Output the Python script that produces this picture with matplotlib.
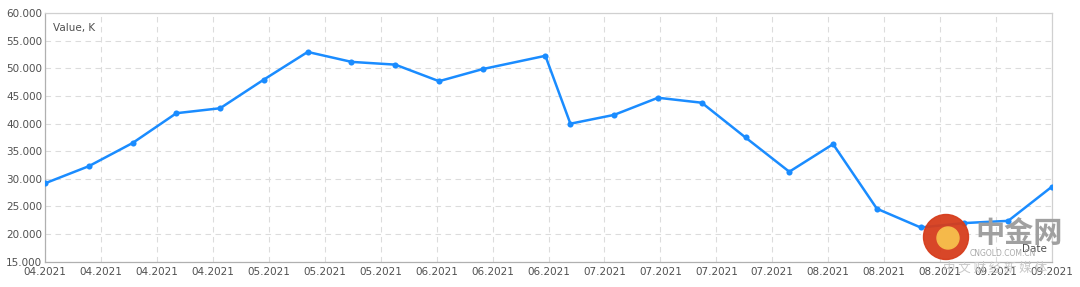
import matplotlib
matplotlib.use("Agg")
import matplotlib.pyplot as plt
import matplotlib.dates as mdates
import matplotlib.patches as mpatches
import numpy as np
import pandas as pd

# Weekly report dates (Jun 18 holiday pushed to Jun 21)
dates = pd.to_datetime([
    "2021-04-02", "2021-04-09", "2021-04-16", "2021-04-23", "2021-04-30",
    "2021-05-07", "2021-05-14", "2021-05-21", "2021-05-28",
    "2021-06-04", "2021-06-11", "2021-06-21", "2021-06-25",
    "2021-07-02", "2021-07-09", "2021-07-16", "2021-07-23", "2021-07-30",
    "2021-08-06", "2021-08-13", "2021-08-20", "2021-08-27",
    "2021-09-03", "2021-09-10",
])
values_k = [
    29.2, 32.3, 36.5, 41.9, 42.8,
    48.0, 53.0, 51.2, 50.7,
    47.7, 49.9, 52.3, 40.0,
    41.6, 44.7, 43.8, 37.5, 31.3,
    36.3, 24.6, 21.2, 22.0,
    22.4, 28.6,
]
y_ticks = [15, 20, 25, 30, 35, 40, 45, 50, 55, 60]
n_xticks = 19

LINE = "#1a8cff"
GRID = "#dcdcdc"
TXT = "#505050"

fig = plt.figure(figsize=(10.8, 2.87), dpi=100)
ax = fig.add_axes([45 / 1080, 1 - 261.7 / 287, 1007 / 1080, 248.4 / 287])

ax.plot(dates, values_k, color=LINE, lw=1.8, marker="o", ms=4.4,
        markeredgewidth=0, zorder=3)

ax.set_xlim(dates[0], dates[-1])
ax.set_ylim(y_ticks[0], y_ticks[-1])

# date ticks evenly spread over the range, labelled by the next whole day
xnum = np.linspace(mdates.date2num(dates[0]), mdates.date2num(dates[-1]), n_xticks)
ax.set_xticks(xnum)
ax.set_xticklabels([mdates.num2date(np.ceil(v)).strftime("%m.%Y") for v in xnum])
ax.set_yticks(y_ticks)
ax.set_yticklabels([f"{v}.000" for v in y_ticks])

ax.tick_params(axis="both", length=0, labelsize=7.5, colors=TXT)
ax.tick_params(axis="x", pad=4)
ax.tick_params(axis="y", pad=2)

ax.grid(True, color=GRID, lw=0.8, linestyle=(0, (5, 4)), zorder=0)
ax.set_axisbelow(True)

for side in ["left", "bottom"]:
    ax.spines[side].set_color("#b0b0b0")
for side in ["top", "right"]:
    ax.spines[side].set_color("#d0d0d0")
for s in ax.spines.values():
    s.set_linewidth(0.9)

ax.text(0.008, 0.96, "Value, K", transform=ax.transAxes, fontsize=7.5,
        color=TXT, va="top", ha="left")
ax.text(0.995, 0.03, "Date", transform=ax.transAxes, fontsize=7.5,
        color=TXT, va="bottom", ha="right")

# watermark
wm = fig.add_axes([0, 0, 1, 1], zorder=5)
wm.set_xlim(0, 1080)
wm.set_ylim(287, 0)
wm.axis("off")
wm.add_patch(mpatches.Circle((946, 237), 22.5, color="#d63d1c", alpha=0.95))
wm.add_patch(mpatches.Circle((948, 238), 11, color="#f5b94a"))
wm.text(1019, 233, "中金网", fontsize=21, color="#a0a0a0", ha="center",
        va="center", family=["Noto Sans CJK SC", "DejaVu Sans"], weight="bold")
wm.text(1003, 254, "CNGOLD.COM.CN", fontsize=5.5, color="#a8a8a8", ha="center",
        va="center")
wm.text(995, 268, "中 文 财 经 新 媒 体", fontsize=9, color="#c8c8c8",
        ha="center", va="center", family=["Noto Sans CJK SC", "DejaVu Sans"])

fig.savefig("out.png", dpi=100)
